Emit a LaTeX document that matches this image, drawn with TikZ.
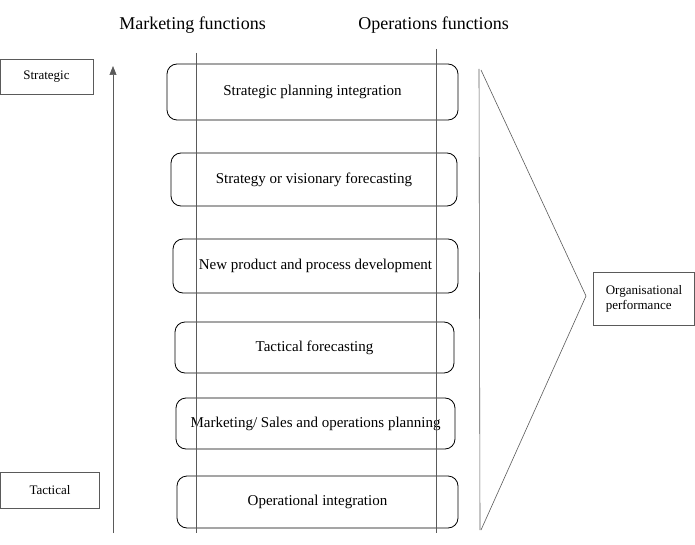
\documentclass[tikz,border=0pt]{standalone}
\usepackage{fontspec}
\setmainfont{Liberation Serif}
\usepackage{tikz}
\usetikzlibrary{arrows.meta, positioning, calc}
\definecolor{linegray}{RGB}{90, 90, 90}

\begin{document}
\begin{tikzpicture}[
          x=1pt, y=-1pt,
          stage/.style={draw, thick, rounded corners=10pt, font=\fontsize{15}{17}\selectfont,
                        inner sep=2pt, align=center},
          level/.style={draw, linegray, text=black, font=\fontsize{13}{15}\selectfont,
                        inner sep=2pt, align=center},
          head/.style={font=\fontsize{18}{21}\selectfont, inner sep=0pt},
          thin/.style={linegray, line width=0.6pt},
        ]
        \useasboundingbox (0,0) rectangle (695,545);

        \node[head] (mkt) at (192.5,25) {Marketing functions};
        \node[head] (ops) at (433.5,25) {Operations functions};

        \node[stage, minimum width=291pt, minimum height=56pt] (s1) at (312.5,92) {Strategic planning integration};
        \node[stage, minimum width=286pt, minimum height=53pt] (s2) at (314,179.5) {Strategy or visionary forecasting};
        \node[stage, minimum width=285pt, minimum height=54pt] (s3) at (315.5,266) {New product and process development};
        \node[stage, minimum width=279pt, minimum height=51pt] (s4) at (314.5,347.5) {Tactical forecasting};
        \node[stage, minimum width=279pt, minimum height=51pt] (s5) at (315.5,423.5) {Marketing/ Sales and operations planning};
        \node[stage, minimum width=281pt, minimum height=52pt] (s6) at (317.5,502) {Operational integration};

        \node[level, minimum width=93pt, minimum height=35pt] (strat) at (46.5,76.5) {Strategic};
        \node[level, minimum width=99pt, minimum height=36pt] (tact) at (50,490) {Tactical};
        \node[level, minimum width=101pt, minimum height=53pt, align=left] (perf) at (644,298.5) {Organisational\\performance};

        % function columns
        \coordinate (mtop) at (196,53);
        \coordinate (mbot) at (196,533);
        \coordinate (otop) at (436,49);
        \coordinate (obot) at (436,533);
        \draw[thin] (mtop) -- (mbot);
        \draw[thin] (otop) -- (obot);

        % tactical to strategic
        \coordinate (up0) at (113,533);
        \coordinate (up1) at (113,66);
        \draw[thin, -{Triangle[length=9pt, width=7pt]}] (up0) -- (up1);

        % bracket to performance
        \coordinate (btop) at (479,69);
        \coordinate (bbot) at (480,530);
        \coordinate (apex) at (586,296);
        \draw[thin] (btop) -- (bbot);
        \draw[thin] ($(btop)+(2,1)$) -- (apex) -- ($(bbot)+(1,0)$);
      \end{tikzpicture}
\end{document}
